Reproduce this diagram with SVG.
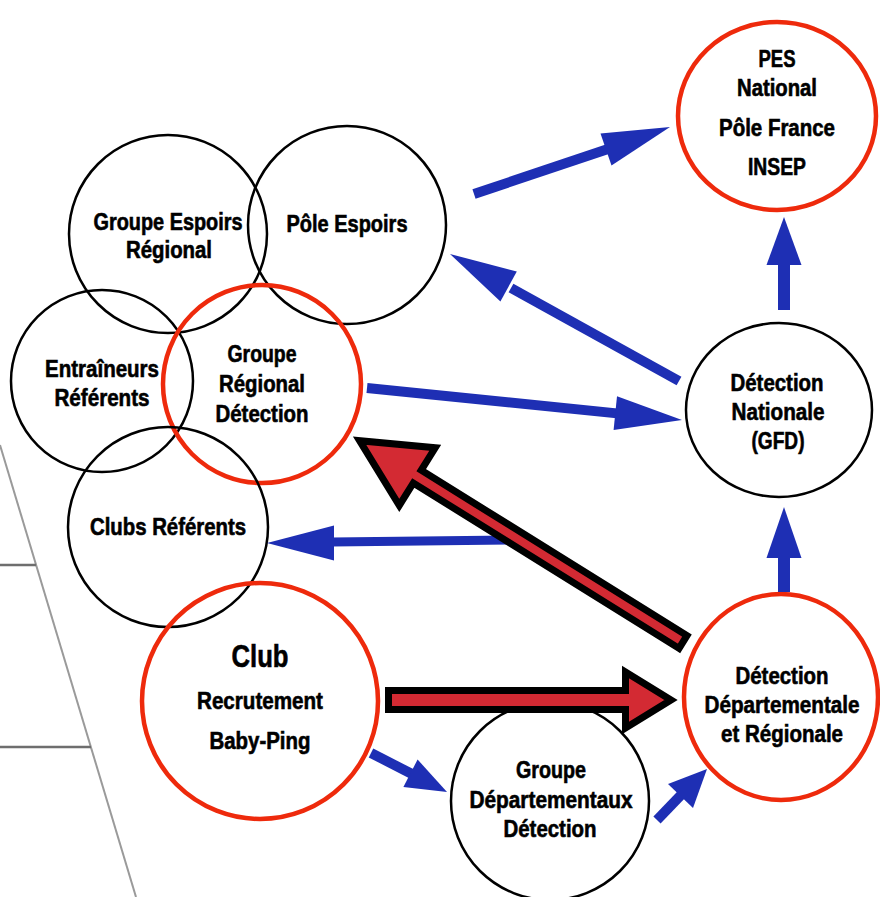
<svg xmlns="http://www.w3.org/2000/svg" width="880" height="897" viewBox="0 0 880 897">
<style>
.n{fill:none;stroke:#000;stroke-width:2.5}
.r{fill:none;stroke:#ee2a0c;stroke-width:4.5}
text{font-family:"Liberation Sans",Arial,sans-serif;font-weight:bold;font-size:23px;text-anchor:middle;fill:#000;stroke:#000;stroke-width:0.6}
.s{stroke:#1e2fb4;stroke-width:10;fill:none}
.h{fill:#1e2fb4}
.big{fill:#d32a33;stroke:#000;stroke-width:7;stroke-linejoin:miter;stroke-miterlimit:10}
.g{stroke:#9a9a9a;stroke-width:2;fill:none}
.g2{stroke:#6e6e6e;stroke-width:2.5;fill:none}
</style>
<rect width="880" height="897" fill="#fff"/>
<g id="background">
<line class="g" x1="0" y1="445" x2="136" y2="897"/>
<line class="g2" x1="0" y1="565" x2="36" y2="565"/>
<line class="g2" x1="0" y1="747" x2="91" y2="747"/>
</g>
<g id="groupe-espoirs-regional">
<circle class="n" cx="168" cy="234" r="99"/>
<text x="168" y="230" textLength="149" lengthAdjust="spacingAndGlyphs">Groupe Espoirs</text>
<text x="169" y="258" textLength="86" lengthAdjust="spacingAndGlyphs">Régional</text>
</g>
<g id="pole-espoirs">
<circle class="n" cx="347" cy="225" r="99"/>
<text x="347" y="232" textLength="121" lengthAdjust="spacingAndGlyphs">Pôle Espoirs</text>
</g>
<g id="entraineurs-referents">
<circle class="n" cx="102" cy="381" r="91"/>
<text x="102" y="377" textLength="114" lengthAdjust="spacingAndGlyphs">Entraîneurs</text>
<text x="102" y="406" textLength="95" lengthAdjust="spacingAndGlyphs">Référents</text>
</g>
<g id="groupe-regional-detection">
<circle class="r" cx="262" cy="384" r="99"/>
<text x="262" y="362" textLength="69" lengthAdjust="spacingAndGlyphs">Groupe</text>
<text x="262" y="392" textLength="86" lengthAdjust="spacingAndGlyphs">Régional</text>
<text x="262" y="422" textLength="93" lengthAdjust="spacingAndGlyphs">Détection</text>
</g>
<g id="clubs-referents">
<circle class="n" cx="168" cy="527" r="100"/>
<text x="168" y="535" textLength="156" lengthAdjust="spacingAndGlyphs">Clubs Référents</text>
</g>
<g id="club">
<ellipse class="r" cx="260" cy="701" rx="118" ry="118"/>
<text x="260" y="667" style="font-size:31px" textLength="57" lengthAdjust="spacingAndGlyphs">Club</text>
<text x="260" y="709" textLength="126" lengthAdjust="spacingAndGlyphs">Recrutement</text>
<text x="260" y="749" textLength="101" lengthAdjust="spacingAndGlyphs">Baby-Ping</text>
</g>
<g id="groupe-departementaux-detection">
<circle class="n" cx="550" cy="801" r="99"/>
<text x="551" y="778" textLength="70" lengthAdjust="spacingAndGlyphs">Groupe</text>
<text x="551" y="808" textLength="163" lengthAdjust="spacingAndGlyphs">Départementaux</text>
<text x="550" y="837" textLength="93" lengthAdjust="spacingAndGlyphs">Détection</text>
</g>
<g id="detection-departementale-regionale">
<ellipse class="r" cx="781" cy="697" rx="97" ry="103"/>
<text x="782" y="684" textLength="93" lengthAdjust="spacingAndGlyphs">Détection</text>
<text x="782" y="713" textLength="155" lengthAdjust="spacingAndGlyphs">Départementale</text>
<text x="782" y="742" textLength="122" lengthAdjust="spacingAndGlyphs">et Régionale</text>
</g>
<g id="detection-nationale">
<ellipse class="n" cx="779" cy="410" rx="93" ry="87"/>
<text x="777" y="391" textLength="93" lengthAdjust="spacingAndGlyphs">Détection</text>
<text x="778" y="420" textLength="93" lengthAdjust="spacingAndGlyphs">Nationale</text>
<text x="778" y="449" textLength="53" lengthAdjust="spacingAndGlyphs">(GFD)</text>
</g>
<g id="pes-national">
<ellipse class="r" cx="777" cy="116" rx="99" ry="94"/>
<text x="777" y="67" textLength="37" lengthAdjust="spacingAndGlyphs">PES</text>
<text x="777" y="96" textLength="80" lengthAdjust="spacingAndGlyphs">National</text>
<text x="777" y="136" textLength="116" lengthAdjust="spacingAndGlyphs">Pôle France</text>
<text x="777" y="175" textLength="58" lengthAdjust="spacingAndGlyphs">INSEP</text>
</g>
<g id="connectors">
<line class="s" x1="474" y1="194" x2="608" y2="149"/>
<polygon class="h" points="670,127 600.5,133.4 611.5,165.6"/>
<line class="s" x1="679" y1="381" x2="511" y2="288"/>
<polygon class="h" points="450,254 516.8,271.6 500.4,301.4"/>
<line class="s" x1="367" y1="388" x2="617" y2="413.4"/>
<polygon class="h" points="682,420 617,396.3 613.6,430.1"/>
<line class="s" x1="515" y1="540" x2="332" y2="542" style="stroke-width:9"/>
<polygon class="h" points="267,543 334,525.5 334,560.5"/>
<line class="s" x1="371" y1="753" x2="412" y2="774"/>
<polygon class="h" points="447,792 417.6,759.5 403.4,787.1"/>
<line class="s" x1="657" y1="820" x2="682" y2="794"/>
<polygon class="h" points="707,769 668,784 693,808"/>
<line class="s" x1="784" y1="310" x2="784" y2="263" style="stroke-width:12"/>
<polygon class="h" points="784,217 766.5,265 801.5,265"/>
<line class="s" x1="784" y1="592" x2="784" y2="556" style="stroke-width:12"/>
<polygon class="h" points="784,507 766.5,558 801.5,558"/>
<path class="big" d="M388.5,690.5 H625.5 V672 L671,700 L625.5,728 V709.5 H388.5 Z"/>
<path class="big" transform="translate(683,642) rotate(211.9)" d="M0,-7.5 H313 V-34 L381,0 L313,34 V7.5 H0 Z"/>
</g>
</svg>
